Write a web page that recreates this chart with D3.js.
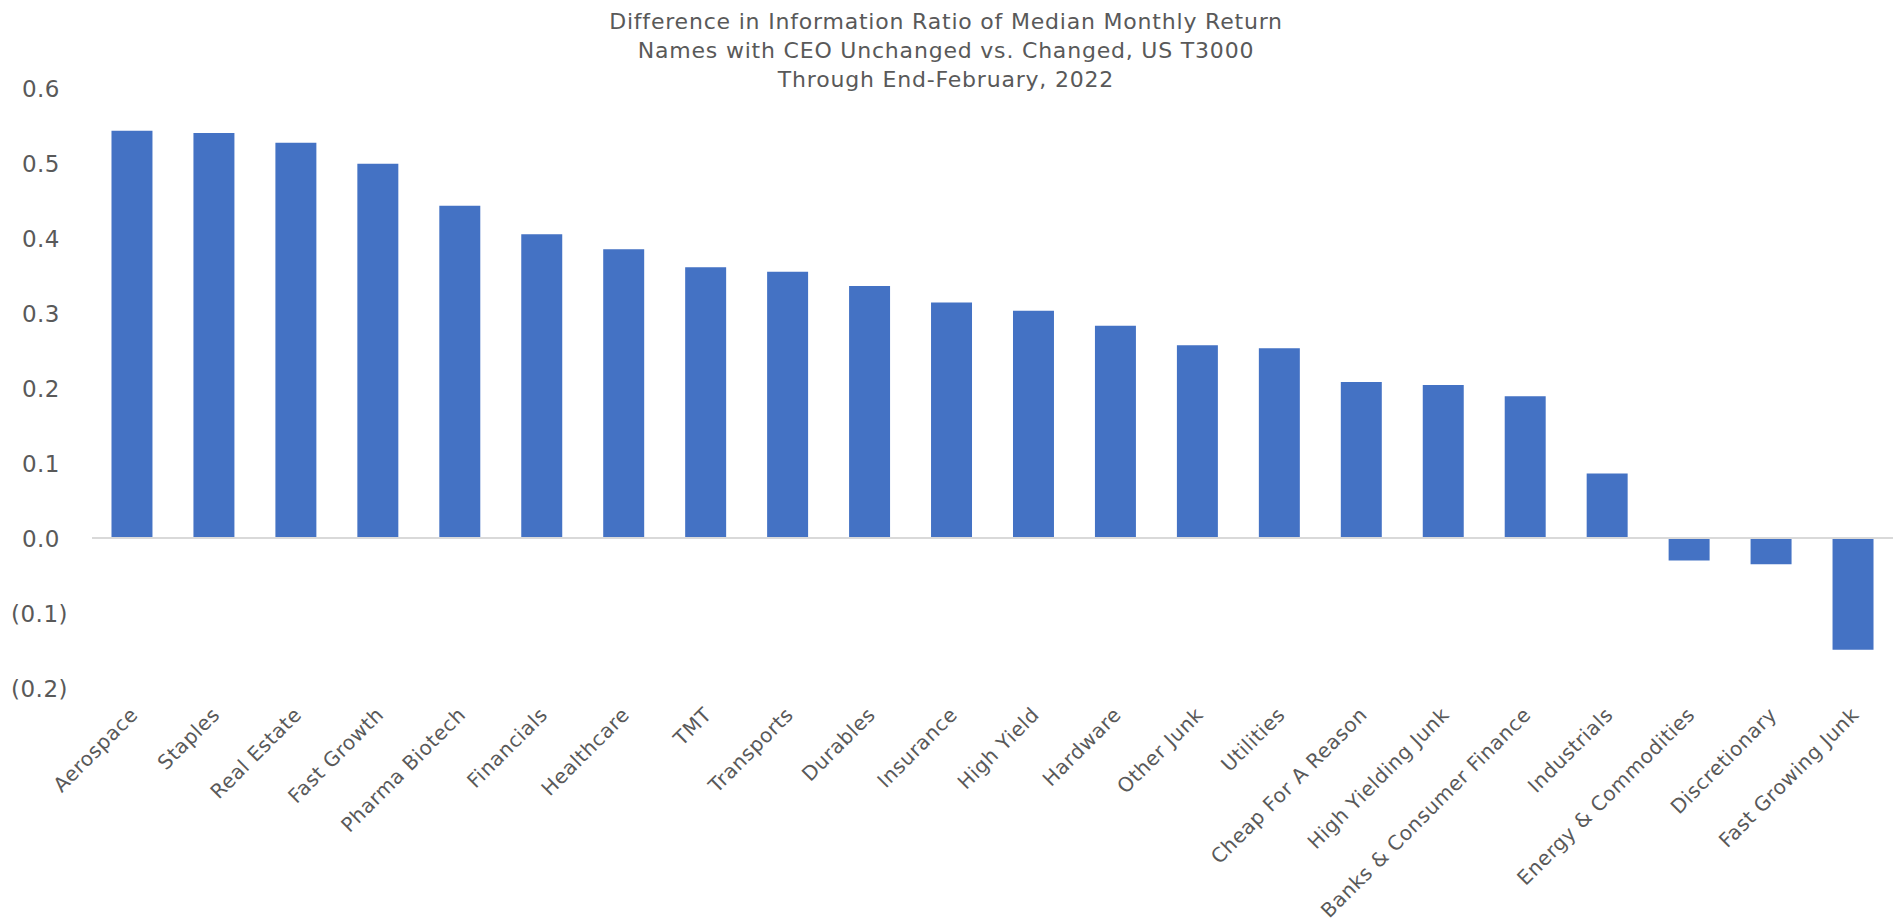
<!DOCTYPE html>
<html>
<head>
<meta charset="utf-8">
<script src="https://cdn.jsdelivr.net/npm/d3@7"></script>
<style>
  html, body { margin: 0; padding: 0; background: #ffffff; }
  svg { display: block; }
  text { font-family: "DejaVu Sans", "Noto Sans", sans-serif; fill: #595959; }
</style>
</head>
<body>
<svg id="chart" width="1899" height="921"></svg>
<script>
// Sector groups, ordered by the size of the gap
const categories = [
  "Aerospace", "Staples", "Real Estate", "Fast Growth", "Pharma Biotech",
  "Financials", "Healthcare", "TMT", "Transports", "Durables", "Insurance",
  "High Yield", "Hardware", "Other Junk", "Utilities", "Cheap For A Reason",
  "High Yielding Junk", "Banks & Consumer Finance", "Industrials",
  "Energy & Commodities", "Discretionary", "Fast Growing Junk"
];

// Information-ratio difference: CEO unchanged minus CEO changed
const values = [
  0.543, 0.540, 0.527, 0.499, 0.443,
  0.405, 0.385, 0.361, 0.355, 0.336, 0.314,
  0.303, 0.283, 0.257, 0.253, 0.208,
  0.204, 0.189, 0.086,
  -0.030, -0.035, -0.149
];

const yTicks = [-0.2, -0.1, 0.0, 0.1, 0.2, 0.3, 0.4, 0.5, 0.6];

const titleLines = [
  "Difference in Information Ratio of Median Monthly Return",
  "Names with CEO Unchanged vs. Changed, US T3000",
  "Through End-February, 2022"
];

const FONT = "\"DejaVu Sans\", \"Noto Sans\", sans-serif";
const svg = d3.select("#chart");

const x = d3.scaleBand()
  .domain(categories)
  .range([91, 1894])
  .paddingInner(0.5)
  .paddingOuter(0.25);

const y = d3.scaleLinear()
  .domain([-0.2, 0.6])
  .range([688, 88]);

const fmt = v => v < 0 ? "(" + Math.abs(v).toFixed(1) + ")" : v.toFixed(1);

// Title
svg.append("g")
  .selectAll("text")
  .data(titleLines)
  .join("text")
  .attr("x", 946)
  .attr("y", (d, i) => 29 + i * 29)
  .attr("text-anchor", "middle")
  .style("font-size", "22px")
  .style("letter-spacing", "0.8px")
  .text(d => d);

// Y axis labels (no line, no ticks); positives leave room for the closing paren
const yAxis = svg.append("g")
  .attr("transform", "translate(68,0)")
  .call(d3.axisLeft(y).tickValues(yTicks).tickFormat(fmt).tickSize(0).tickPadding(0));
yAxis.select(".domain").remove();
yAxis.selectAll("text")
  .attr("dx", d => d < 0 ? 0 : -8)
  .attr("dy", "0.36em")
  .style("font-size", "23px")
  .style("letter-spacing", "0.5px")
  .style("font-family", FONT)
  .attr("fill", "#595959");

// Bars
svg.append("g")
  .selectAll("rect")
  .data(values)
  .join("rect")
  .attr("x", (d, i) => x(categories[i]))
  .attr("width", x.bandwidth())
  .attr("y", d => y(Math.max(0, d)))
  .attr("height", d => Math.abs(y(d) - y(0)))
  .attr("fill", "#4472C4");

// Zero line
svg.append("line")
  .attr("x1", 92).attr("x2", 1893)
  .attr("y1", y(0)).attr("y2", y(0))
  .attr("stroke", "#D9D9D9")
  .attr("stroke-width", 2);

// Category labels, rotated
const xAxis = svg.append("g")
  .attr("transform", "translate(0,716)")
  .call(d3.axisBottom(x).tickSize(0).tickPadding(0));
xAxis.select(".domain").remove();
xAxis.selectAll("text")
  .attr("text-anchor", "end")
  .attr("y", 0)
  .attr("dy", 0)
  .attr("transform", "translate(7,0) rotate(-45)")
  .style("font-size", "20px")
  .style("letter-spacing", "0.55px")
  .style("font-family", FONT)
  .attr("fill", "#595959");
</script>
</body>
</html>
